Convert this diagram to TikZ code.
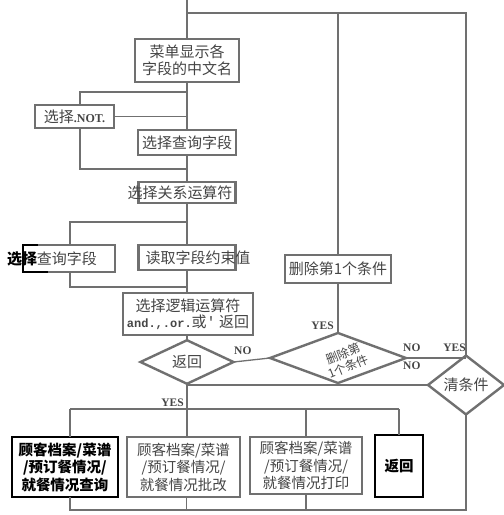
\documentclass[tikz,border=0pt]{standalone}
\usepackage{fontspec}
\setmainfont{Liberation Serif}
\newfontfamily\cjk{Noto Sans CJK SC}
\newfontfamily\monof{Liberation Mono}
\usetikzlibrary{shapes.geometric}
\definecolor{ln}{HTML}{707070}
\definecolor{tx}{HTML}{454545}
\begin{document}
\begin{tikzpicture}[x=1pt,y=-1pt,
  line/.style={draw=ln,line width=1.3pt},
  box/.style={draw=ln,line width=2.4pt,fill=white,inner sep=0pt,outer sep=0pt,
    font=\cjk\fontsize{15}{17}\selectfont,text=tx,align=center},
  blackbox/.style={box,draw=black,text=black,font=\cjk\bfseries\fontsize{14.5}{17.5}\selectfont},
  graybox/.style={box,font=\cjk\fontsize{14.5}{17.5}\selectfont},
  dia/.style={diamond,draw=ln,line width=2.4pt,fill=white,inner sep=0pt,outer sep=0pt,
    font=\cjk\fontsize{15}{17}\selectfont,text=tx},
  txt/.style={inner sep=0pt,font=\cjk\fontsize{15}{17}\selectfont,text=tx},
  lab/.style={inner sep=0pt,font=\bfseries\fontsize{11.5}{11.5}\selectfont,text=tx}]
\useasboundingbox (0,0) rectangle (504,515);
\fill[white] (0,0) rectangle (504,515);

% boxes
\node[box,minimum width=104pt,minimum height=43pt] (menu) at (187,60.5) {菜单显示各\\字段的中文名};
\node[box,minimum width=79pt,minimum height=23pt] (not) at (74.5,116.5) {选择{\rmfamily\bfseries\fontsize{12}{12}\selectfont .NOT.}};
\node[box,minimum width=98pt,minimum height=25pt] (qry) at (187,142.5) {选择查询字段};
\node[box,minimum width=97pt,minimum height=21pt] (rel) at (187,192.5) {};
\node[txt] (relT) at (180,193) {选择关系运算符};
\node[box,minimum width=97pt,minimum height=25pt] (rd) at (187,257.5) {};
\node[txt] (rdT) at (198,258) {读取字段约束值};
\node[box,minimum width=92pt,minimum height=27pt] (qry2) at (69,258.5) {};
\draw[black,line width=2.8pt] ([xshift=15pt]qry2.north west) -- (qry2.north west) -- (qry2.south west) -- ([xshift=25pt]qry2.south west);
\node[txt] (qry2T) at (52,259) {{\color{black}\bfseries 选择}查询字段};
\node[box,minimum width=130pt,minimum height=42pt] (logic) at (188,314) {选择逻辑运算符\\[-1pt]{\monof\bfseries\fontsize{12}{12}\selectfont and.,.or.}或{\monof '} 返回};
\node[dia,minimum width=93pt,minimum height=40pt] (retD) at (187,362) {返回};
\node[box,minimum width=106pt,minimum height=28pt] (del) at (338,269) {删除第1个条件};
\node[dia,minimum width=136pt,minimum height=50pt] (delD) at (338,358) {};
\node[txt,rotate=22,align=center,font=\cjk\fontsize{12}{13.5}\selectfont] (delDT) at (346,360) {删除第\\1个条件};
\node[dia,minimum width=76pt,minimum height=46pt] (clr) at (466,385) {清条件};

\node[blackbox,minimum width=106pt,minimum height=60pt] (b1) at (65,467) {顾客档案/菜谱\\/预订餐情况/\\就餐情况查询};
\node[graybox,minimum width=113pt,minimum height=60pt] (b2) at (183.5,467) {顾客档案/菜谱\\/预订餐情况/\\就餐情况批改};
\node[graybox,minimum width=112pt,minimum height=57pt] (b3) at (306,465.5) {顾客档案/菜谱\\/预订餐情况/\\就餐情况打印};
\node[blackbox,minimum width=48pt,minimum height=62pt] (b4) at (399,466) {返回};

% junction coordinates
\coordinate (top0) at (187,0);
\coordinate (topJ) at (187,13);
\coordinate (j1) at (187,92);
\coordinate (j2) at (187,169);
\coordinate (j3) at (187,222);
\coordinate (j4) at (187,287);
\coordinate (j6) at (187,409);
\coordinate (bot) at (187,510);

\draw[line] (top0) -- (menu.north);
\draw[line] (topJ) -- (topJ -| clr.north) -- (clr.north);
\draw[line] (del.north |- topJ) -- (del.north);
\draw[line] (menu.south) -- (qry.north);
\draw[line] (j1) -| ([xshift=5.5pt]not.north);
\draw[line] (not.east) -- (not.east -| menu.south);
\draw[line] ([xshift=5.5pt]not.south) |- (j2);
\draw[line] (qry.south) -- (rel.north);
\draw[line] (rel.south) -- (rd.north);
\draw[line] (j3) -| ([xshift=1pt]qry2.north);
\draw[line] ([xshift=1pt]qry2.south) |- (j4);
\draw[line] (rd.south) -- (logic.north -| rd.south);
\draw[line] (logic.south -| retD.north) -- (retD.north);
\draw[line] (retD.east) -- (delD.west);
\draw[line] (delD.north) -- (del.south);
\draw[line] (delD.east) -- (delD.east -| clr.north);
\draw[line] (clr.west) -- (clr.west -| retD.south);
\draw[line] (retD.south) -- (j6);
\draw[line] ([xshift=5pt]b1.north |- j6) -- (b4.north |- j6);
\draw[line] ([xshift=5pt]b1.north |- j6) -- ([xshift=5pt]b1.north);
\draw[line] (j6) -- (j6 |- b2.north);
\draw[line] (b3.north |- j6) -- (b3.north);
\draw[line] (b4.north |- j6) -- (b4.north);
\draw[line] ([xshift=5pt]b1.south) -- ([xshift=5pt]b1.south |- bot) -- (bot -| clr.south) -- (clr.south);
\draw[line] ([xshift=3pt]b2.south) -- ([xshift=3pt]b2.south |- bot);
\draw[line] (b3.south) -- (b3.south |- bot);

% labels
\node[lab,anchor=south west] (l1) at (234,355) {NO};
\node[lab,anchor=south east] (l2) at (334,330) {YES};
\node[lab,anchor=south west] (l3) at (403,352) {NO};
\node[lab,anchor=south east] (l4) at (466,352) {YES};
\node[lab,anchor=north west] (l5) at (403,362) {NO};
\node[lab,anchor=south east] (l6) at (184,407) {YES};
\end{tikzpicture}
\end{document}
